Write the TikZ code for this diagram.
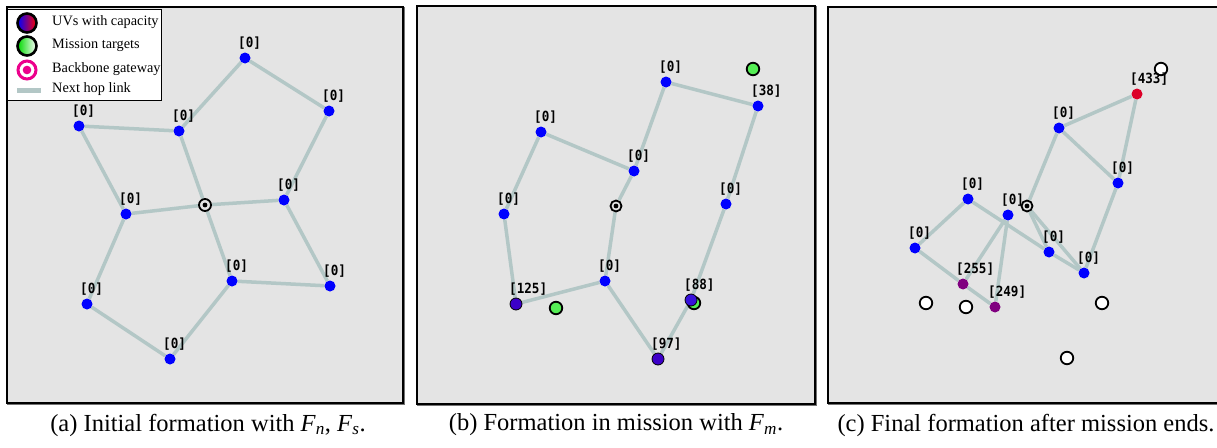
\documentclass[tikz,border=0pt]{standalone}
\usepackage{fontspec}
\setmainfont{Liberation Serif}
\newfontfamily\lblfont{DejaVu Sans Mono}[FakeStretch=0.9]
\usetikzlibrary{calc}

\definecolor{bggray}{HTML}{E4E4E4}
\definecolor{linkc}{HTML}{B3C7C6}
\definecolor{uvblue}{HTML}{0000FF}
\definecolor{capviolet}{HTML}{3C00C8}
\definecolor{capviolet2}{HTML}{3812DC}
\definecolor{capred}{HTML}{DC0028}
\definecolor{cappurple}{HTML}{800080}
\definecolor{tgtgreen}{HTML}{55EE55}

\pgfdeclarelayer{panel}
\pgfdeclarelayer{links}
\pgfsetlayers{panel,links,main}

\tikzset{
  panelbox/.style={fill=bggray, draw=black, line width=1.6pt},
  panelshadow/.style={draw=black!55, line width=1.6pt},
  uv/.style={circle, fill=uvblue, minimum size=11pt, inner sep=0pt},
  capuv/.style={circle, draw=black, line width=0.8pt, minimum size=12pt, inner sep=0pt},
  tgt/.style={circle, draw=black, line width=1.8pt, minimum size=12.5pt, inner sep=0pt},
  gway/.style={circle, draw=black, line width=1.8pt, minimum size=12pt, inner sep=0pt, fill=bggray,
    path picture={\fill[black] (path picture bounding box.center) circle (2.4pt);}},
  link/.style={draw=linkc, line width=3.5pt},
  lbl/.style={font=\lblfont\bfseries\fontsize{14}{14}\selectfont, anchor=west, inner sep=0pt},
  legtext/.style={font=\fontsize{14.3}{15}\selectfont, anchor=west, inner sep=0pt},
  captext/.style={font=\fontsize{24.5}{27}\selectfont, inner sep=0pt},
}

% plain UV with its capacity label above it
\newcommand\mkuv[4]{%
  \node[uv] (#1) at (#2,#3) {};
  \node[lbl] (#1l) at ([xshift=-7pt,yshift=15pt]#1.center) {[#4]};}
% UV carrying load, outlined and coloured by its capacity
\newcommand\mkcap[5]{%
  \node[capuv, fill=#5] (#1) at (#2,#3) {};
  \node[lbl] (#1l) at ([xshift=-7pt,yshift=15pt]#1.center) {[#4]};}
% UV coloured by its capacity, no outline
\newcommand\mkcol[5]{%
  \node[uv, fill=#5] (#1) at (#2,#3) {};
  \node[lbl] (#1l) at ([xshift=-7pt,yshift=15pt]#1.center) {[#4]};}

\begin{document}
\begin{tikzpicture}[x=1pt,y=-1pt]
\useasboundingbox (0,0) rectangle (1217,447);

% ---------- panels ----------
\begin{pgfonlayer}{panel}
  \draw[panelshadow] (8,8) rectangle (404,404);
  \draw[panelbox] (7,7) rectangle (403,403);
  \draw[panelshadow] (418,7) rectangle (816,405);
  \draw[panelbox] (417,6) rectangle (815,404);
  \draw[panelshadow] (829,8) rectangle (1224,404);
  \draw[panelbox] (828,7) rectangle (1223,403);
\end{pgfonlayer}

% ---------- (a) initial formation ----------
\mkuv{a1}{245}{58}{0}
\mkuv{a2}{329}{111}{0}
\mkuv{a3}{79}{126}{0}
\mkuv{a4}{179}{131}{0}
\mkuv{a5}{284}{200}{0}
\mkuv{a6}{126}{214}{0}
\node[gway] (ag) at (205,205) {};
\mkuv{a7}{232}{281}{0}
\mkuv{a8}{330}{286}{0}
\mkuv{a9}{87}{304}{0}
\mkuv{a10}{170}{359}{0}

\begin{pgfonlayer}{links}
  \draw[link] (a1) -- (a4);
  \draw[link] (a1) -- (a2);
  \draw[link] (a3) -- (a4);
  \draw[link] (a3) -- (a6);
  \draw[link] (a4) -- (ag);
  \draw[link] (a6) -- (ag);
  \draw[link] (ag) -- (a5);
  \draw[link] (a2) -- (a5);
  \draw[link] (a5) -- (a8);
  \draw[link] (ag) -- (a7);
  \draw[link] (a7) -- (a8);
  \draw[link] (a6) -- (a9);
  \draw[link] (a9) -- (a10);
  \draw[link] (a10) -- (a7);
\end{pgfonlayer}

% legend
\node[draw=black, line width=0.9pt, fill=white, anchor=north west, minimum width=154pt,
      minimum height=91pt, inner sep=0pt] (legend) at (7,9) {};
\node[circle, draw=black, line width=2.6pt, minimum size=19pt, inner sep=0pt,
      left color=blue, right color=red] (legUV) at (27,23) {};
\node[legtext] (legUVt) at (52,22) {UVs with capacity};
\node[circle, draw=black, line width=2.6pt, minimum size=19pt, inner sep=0pt,
      left color=green!85!black, right color=white] (legT) at (27,46) {};
\node[legtext] (legTt) at (52,45) {Mission targets};
\node[circle, draw=magenta, line width=3pt, minimum size=18pt, inner sep=0pt, fill=white,
      path picture={\fill[magenta] (path picture bounding box.center) circle (4.3pt);}] (legG) at (27,70) {};
\node[legtext] (legGt) at (52,69) {Backbone gateway};
\coordinate (legL1) at (17,90);
\coordinate (legL2) at (41,90);
\draw[draw=linkc, line width=5pt] (legL1) -- (legL2);
\node[legtext] (legLt) at (52,89) {Next hop link};

% ---------- (b) formation in mission ----------
\node[tgt, fill=tgtgreen] (bt1) at (753,69) {};
\node[tgt, fill=tgtgreen] (bt2) at (556,308) {};
\node[tgt, fill=tgtgreen] (bt3) at (694,303) {};
\mkuv{b1}{666}{82}{0}
\mkuv{b2}{758}{106}{38}
\mkuv{b3}{541}{132}{0}
\mkuv{b4}{634}{171}{0}
\node[gway, minimum size=11pt] (bg) at (616,206) {};
\mkuv{b5}{726}{204}{0}
\mkuv{b6}{504}{214}{0}
\mkuv{b7}{605}{281}{0}
\mkcap{b8}{516}{304}{125}{capviolet}
\mkcap{b9}{691}{300}{88}{capviolet2}
\mkcap{b10}{658}{359}{97}{capviolet}

\begin{pgfonlayer}{links}
  \draw[link] (b1) -- (b4);
  \draw[link] (b1) -- (b2);
  \draw[link] (b2) -- (b5);
  \draw[link] (b3) -- (b4);
  \draw[link] (b3) -- (b6);
  \draw[link] (b4) -- (bg);
  \draw[link] (bg) -- (b7);
  \draw[link] (b6) -- (b8);
  \draw[link] (b8) -- (b7);
  \draw[link] (b7) -- (b10);
  \draw[link] (b10) -- (b9);
  \draw[link] (b9) -- (b5);
\end{pgfonlayer}

% ---------- (c) final formation ----------
\node[tgt, fill=white] (ct1) at (1161,69) {};
\node[tgt, fill=white] (ct2) at (926,303) {};
\node[tgt, fill=white] (ct3) at (966,307) {};
\node[tgt, fill=white] (ct4) at (1102,303) {};
\node[tgt, fill=white] (ct5) at (1067,358) {};
\node[gway, minimum size=11pt] (cg) at (1027,206) {};
\mkcol{c1}{1137}{94}{433}{capred}
\mkuv{c2}{1059}{128}{0}
\mkuv{c3}{1118}{183}{0}
\mkuv{c4}{968}{199}{0}
\mkuv{c5}{1008}{215}{0}
\mkuv{c6}{915}{248}{0}
\mkuv{c7}{1049}{252}{0}
\mkuv{c8}{1084}{273}{0}
\mkcol{c9}{963}{284}{255}{cappurple}
\mkcol{c10}{995}{307}{249}{cappurple}

\begin{pgfonlayer}{links}
  \draw[link] (c1) -- (c2);
  \draw[link] (c1) -- (c3);
  \draw[link] (c2) -- (c3);
  \draw[link] (c2) -- (cg);
  \draw[link] (cg) -- (c7);
  \draw[link] (cg) -- (c8);
  \draw[link] (c4) -- (c7);
  \draw[link] (c7) -- (c8);
  \draw[link] (c3) -- (c8);
  \draw[link] (c4) -- (c6);
  \draw[link] (c6) -- (c9);
  \draw[link] (c9) -- (c10);
  \draw[link] (c5) -- (c9);
  \draw[link] (c5) -- (c10);
\end{pgfonlayer}

% ---------- captions ----------
\node[captext] (capa) at (208,425) {(a) Initial formation with \textit{F}\textsubscript{\textit{n}}, \textit{F}\textsubscript{\textit{s}}.};
\node[captext] (capb) at (616,425) {(b) Formation in mission with \textit{F}\textsubscript{\textit{m}}.};
\node[captext] (capc) at (1026,425) {(c) Final formation after mission ends.};
\end{tikzpicture}
\end{document}
